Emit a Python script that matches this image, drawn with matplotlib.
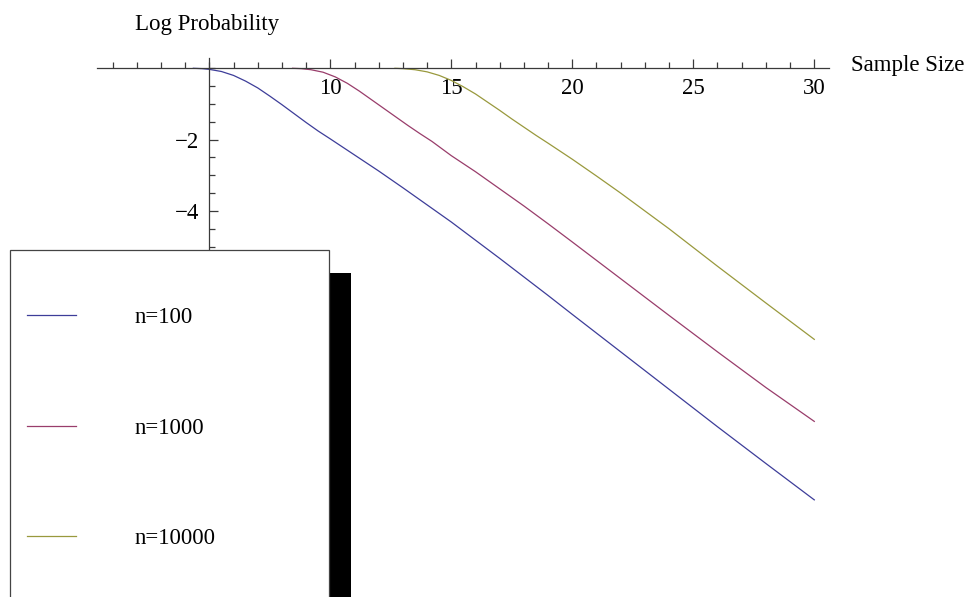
import matplotlib
matplotlib.use("Agg")
import matplotlib.pyplot as plt
from matplotlib.patches import Rectangle
from matplotlib.ticker import MultipleLocator, FixedLocator

plt.rcParams['font.family'] = ['Liberation Serif', 'DejaVu Serif']
FS = 16.5

# ---- data ----
x_n100 = [4.34, 4.7, 5, 5.5, 6, 6.5, 7, 7.5, 8, 8.5, 9, 9.5, 10, 11, 12, 13, 14, 15,
          16, 17, 18, 19, 20, 22, 24, 26, 28, 30]
y_n100 = [0.0, -0.01, -0.03, -0.09, -0.2, -0.36, -0.55, -0.78, -1.02, -1.27, -1.52,
          -1.76, -1.98, -2.43, -2.88, -3.35, -3.83, -4.31, -4.82, -5.33, -5.85, -6.37,
          -6.9, -7.95, -9.0, -10.05, -11.08, -12.1]

x_n1000 = [8.44, 8.8, 9.2, 9.7, 10.2, 10.7, 11.2, 11.7, 12.2, 12.7, 13.2, 13.7, 14.2,
           15, 16, 17, 18, 19, 20, 22, 24, 26, 28, 30]
y_n1000 = [0.0, -0.01, -0.04, -0.11, -0.24, -0.42, -0.64, -0.88, -1.12, -1.36, -1.6,
           -1.83, -2.05, -2.45, -2.9, -3.38, -3.86, -4.36, -4.87, -5.9, -6.93, -7.95,
           -8.95, -9.9]

x_n10000 = [12.67, 13, 13.5, 14, 14.5, 15, 15.5, 16, 16.5, 17, 17.5, 18, 18.5, 19, 20,
            21, 22, 23, 24, 26, 28, 30]
y_n10000 = [0.0, -0.01, -0.04, -0.1, -0.2, -0.34, -0.52, -0.72, -0.95, -1.18, -1.42,
            -1.65, -1.88, -2.1, -2.55, -3.02, -3.5, -4.0, -4.5, -5.55, -6.58, -7.6]

labels = ["n=100", "n=1000", "n=10000"]
colors = ["#3d3d99", "#993d6b", "#99993d"]

x_major = [10, 15, 20, 25, 30]
y_major = [-2, -4]

# ---- figure ----
W_PX, H_PX = 971, 597
fig = plt.figure(figsize=(W_PX / 100, H_PX / 100), dpi=100)
ax_left, ax_right, ax_top, ax_bottom = 96.8, 828.8, 58.3, 507.0
ax = fig.add_axes([ax_left / W_PX, 1 - ax_bottom / H_PX,
                   (ax_right - ax_left) / W_PX, (ax_bottom - ax_top) / H_PX])

series = [(x_n100, y_n100), (x_n1000, y_n1000), (x_n10000, y_n10000)]
for (xs, ys), lab, col in zip(series, labels, colors):
    ax.plot(xs, ys, color=col, lw=0.9, label=lab)

ax.set_xlim(0.35, 30.6)
ax.set_ylim(-12.3, 0.28)

spine_col = "#3a3a3a"
for s in ["top", "right"]:
    ax.spines[s].set_visible(False)
ax.spines["left"].set_position(("data", 5))
ax.spines["bottom"].set_position(("data", 0))
for s in ["left", "bottom"]:
    ax.spines[s].set_color(spine_col)
    ax.spines[s].set_linewidth(0.9)

ax.xaxis.set_major_locator(FixedLocator(x_major))
ax.xaxis.set_minor_locator(MultipleLocator(1))
ax.yaxis.set_major_locator(FixedLocator(y_major))
ax.yaxis.set_minor_locator(MultipleLocator(0.5))
ax.set_xticklabels([str(v) for v in x_major])
ax.set_yticklabels(["\u2212" + str(-v) for v in y_major])

ax.tick_params(axis="both", which="major", direction="in", length=6.5, width=0.9,
               color=spine_col, labelsize=FS, pad=7)
ax.tick_params(axis="both", which="minor", direction="in", length=4, width=0.9,
               color=spine_col)

# axis labels
fig.text(135 / W_PX, 1 - 30 / H_PX, "Log Probability", fontsize=FS, va="baseline", ha="left")
fig.text(851 / W_PX, 1 - 71 / H_PX, "Sample Size", fontsize=FS, va="baseline", ha="left")

# legend box with black drop shadow
shadow = Rectangle((32 / W_PX, -30 / H_PX), 319 / W_PX, (H_PX - 273 + 30) / H_PX,
                   transform=fig.transFigure, facecolor="black", edgecolor="none",
                   zorder=4.4, clip_on=False)
frame = Rectangle((10 / W_PX, -30 / H_PX), 319 / W_PX, (H_PX - 250 + 30) / H_PX,
                  transform=fig.transFigure, facecolor="white", edgecolor="#444444",
                  linewidth=0.9, zorder=4.5, clip_on=False)
ax.add_patch(shadow)
ax.add_patch(frame)

fs_px = FS * 100 / 72
leg = ax.legend(loc="upper left", bbox_to_anchor=(27 / W_PX, 1 - 307 / H_PX),
                bbox_transform=fig.transFigure, frameon=False, borderpad=0,
                borderaxespad=0, fontsize=FS, handlelength=49 / fs_px,
                handletextpad=(135 - 76) / fs_px, labelspacing=3.91)
leg.set_zorder(5)

fig.savefig("out.png", dpi=100)
